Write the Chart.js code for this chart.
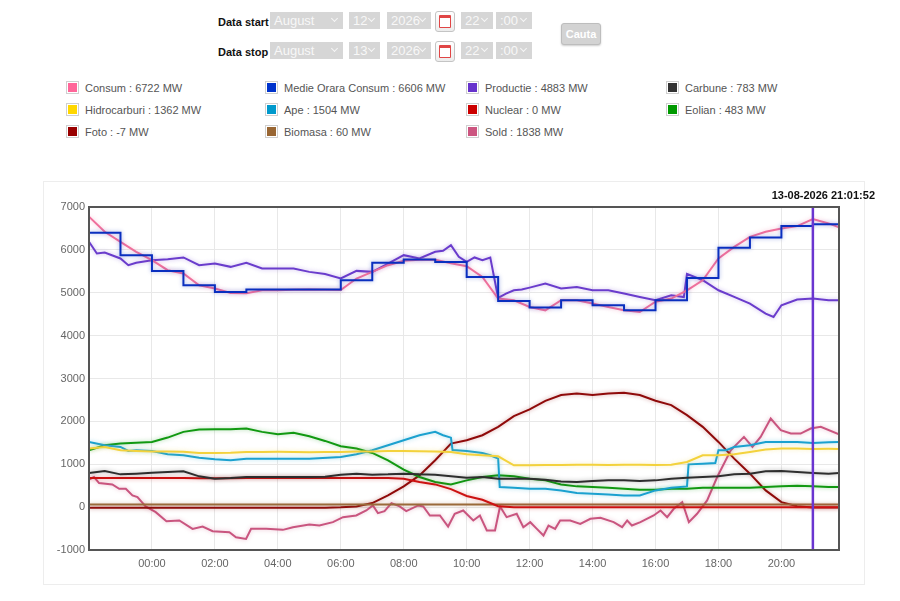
<!DOCTYPE html>
<html>
<head>
<meta charset="utf-8">
<script src="https://cdn.jsdelivr.net/npm/chart.js@4.4.1/dist/chart.umd.min.js"></script>
<style>
  body { margin: 0; width: 900px; height: 601px; position: relative; overflow: hidden; background: #fff;
         font-family: "Liberation Sans", Arial, sans-serif; }
  .lbl { position: absolute; font-weight: bold; font-size: 11px; color: #111; z-index: 2; }
  .sel { position: absolute; height: 17px; background: #d6d6d6; color: #f8f8f8; font-size: 13px;
         line-height: 17px; padding-left: 4px; box-sizing: border-box; }
  .sel:after { content: ''; position: absolute; right: 6px; top: 4px; width: 4px; height: 4px;
               border-right: 1.5px solid #f6f6f6; border-bottom: 1.5px solid #f6f6f6; transform: rotate(45deg); }
  .cal { position: absolute; width: 20px; height: 21px; border: 1px solid #c4c4c4; border-radius: 3px;
         background: linear-gradient(#fff, #ececec); box-sizing: border-box; }
  .cal i { position: absolute; left: 3px; top: 3px; width: 10px; height: 9px; border: 1px solid #e04545;
           border-top: 3px solid #e04545; background: #fff; border-radius: 1px; }
  .btn { position: absolute; left: 561px; top: 23px; width: 40px; height: 22px; background: #d3d3d3;
         border: 1px solid #bdbdbd; border-radius: 3px; box-sizing: border-box; color: #fff; font-weight: bold;
         font-size: 11px; line-height: 20px; text-align: center; box-shadow: 0 1px 2px rgba(0,0,0,.2); }
  .leg { position: absolute; font-size: 11px; color: #555; white-space: nowrap; line-height: 14px; }
  .leg b { display: inline-block; width: 11px; height: 11px; vertical-align: -2px; margin-right: 6px;
           border: 1px solid #d0d0d0; box-shadow: inset 0 0 0 1px #fff; }
  #box { position: absolute; left: 43px; top: 181px; width: 822px; height: 404px; border: 1px solid #ededed;
         box-sizing: border-box; }
  #wrap { position: absolute; left: 43px; top: 181px; width: 822px; height: 404px; }
  #stamp { position: absolute; right: 25px; top: 189px; font-weight: bold; font-size: 11px; color: #111; }
</style>
</head>
<body>
<div class="lbl" style="left:218px;top:16px">Data start</div>
<div class="sel" style="left:270px;top:12px;width:73px">August</div>
<div class="sel" style="left:349px;top:12px;width:31px">12</div>
<div class="sel" style="left:387px;top:12px;width:44px">2026</div>
<div class="cal" style="left:435px;top:11px"><i></i></div>
<div class="sel" style="left:461px;top:12px;width:32px">22</div>
<div class="sel" style="left:496px;top:12px;width:36px">:00</div>

<div class="lbl" style="left:218px;top:46px">Data stop</div>
<div class="sel" style="left:270px;top:42px;width:73px">August</div>
<div class="sel" style="left:349px;top:42px;width:31px">13</div>
<div class="sel" style="left:387px;top:42px;width:44px">2026</div>
<div class="cal" style="left:435px;top:41px"><i></i></div>
<div class="sel" style="left:461px;top:42px;width:32px">22</div>
<div class="sel" style="left:496px;top:42px;width:36px">:00</div>

<div class="btn">Cauta</div>

<div id="legend"></div>
<div id="box"></div>
<div id="wrap"><canvas id="chart" width="822" height="404"></canvas></div>
<div id="stamp">13-08-2026 21:01:52</div>

<script>
// half-hour grid, hours relative to 13-08 00:00 (-2 = 22:00 of the day before)
const hours = [-2, -1.5, -1, -0.5, 0, 0.5, 1, 1.5, 2, 2.5, 3, 3.5, 4, 4.5, 5, 5.5, 6, 6.5, 7, 7.5,
  8, 8.5, 9, 9.5, 10, 10.5, 11, 11.5, 12, 12.5, 13, 13.5, 14, 14.5, 15, 15.5, 16, 16.5, 17, 17.5,
  18, 18.5, 19, 19.5, 20, 20.5, 21, 21.5, 21.83]

const consum = [6773, 6422, 6188, 5955, 5760, 5526, 5450, 5175, 5100, 4997, 4990, 5058, 5060, 5070, 5075, 5070,
  5065, 5332, 5487, 5643, 5744, 5770, 5770, 5690, 5620, 5370, 4864, 4825, 4668, 4590, 4825, 4825, 4748, 4670,
  4590, 4551, 4790, 4864, 5058, 5292, 5800, 6071, 6305, 6422, 6500, 6555, 6720, 6617, 6525]
const hidrocarburi = [1365, 1404, 1326, 1310, 1300, 1300, 1290, 1264, 1264, 1270, 1287, 1287, 1290, 1287, 1280,
  1287, 1287, 1295, 1300, 1310, 1310, 1305, 1300, 1287, 1232, 1209, 1186, 975, 975, 980, 985, 990, 990, 985,
  990, 990, 985, 990, 1053, 1209, 1209, 1232, 1287, 1342, 1365, 1365, 1357, 1360, 1357]
const eolian = [1326, 1443, 1482, 1500, 1521, 1622, 1755, 1810, 1817, 1817, 1833, 1755, 1700, 1732, 1654, 1544,
  1420, 1365, 1264, 1092, 874, 702, 585, 530, 624, 702, 741, 718, 663, 624, 530, 484, 468, 452, 429, 406, 406,
  429, 429, 452, 452, 452, 452, 468, 484, 500, 484, 468, 470]
const carbune = [796, 842, 764, 780, 803, 819, 835, 718, 663, 678, 702, 702, 702, 702, 702, 710, 757, 780, 757,
  764, 780, 764, 757, 718, 686, 702, 663, 663, 663, 640, 600, 585, 608, 624, 624, 608, 624, 663, 686, 702, 718,
  764, 780, 835, 842, 819, 796, 780, 796]
const nuclear = [679, 679, 681, 679, 679, 679, 679, 676, 674, 676, 679, 679, 679, 679, 679, 679, 679, 679, 679,
  679, 663, 585, 530, 420, 260, 172, 20, 0, 0, 0, 0, 0, 0, 0, 0, 0, 0, 0, 0, 0, 0, 0, 0, 0, 0, 0, 0, 0, 0]
const foto = [-14, -15, -16, -15, -15, -14, -15, -16, -15, -15, -14, -15, -15, -16, -15, -14, -5, 16, 94, 273,
  484, 741, 1092, 1482, 1560, 1677, 1872, 2122, 2278, 2480, 2613, 2652, 2613, 2652, 2668, 2613, 2480, 2379,
  2145, 1872, 1521, 1131, 780, 390, 117, 23, -8, -10, -7]
const biomasa = [62, 62, 61, 61, 60, 60, 60, 60, 61, 61, 60, 60, 60, 60, 61, 61, 60, 60, 59, 59,
  60, 60, 61, 61, 60, 60, 60, 60, 60, 61, 61, 60, 60, 59, 60, 60, 60, 60, 61, 61,
  60, 60, 60, 60, 60, 60, 60, 60, 60]

// hourly average, one value per hour
const medieHours = [-2, -1, 0, 1, 2, 3, 4, 5, 6, 7, 8, 9, 10, 11, 12, 13, 14, 15, 16, 17, 18, 19, 20, 21, 21.83]
const medie = [6400, 5877, 5510, 5175, 5020, 5075, 5075, 5075, 5292, 5697, 5775, 5720, 5370, 4808, 4654, 4825,
  4708, 4590, 4825, 5346, 6048, 6290, 6555, 6595, 6595]

const productieHours = [-2, -1.75, -1.5, -1, -0.75, -0.5, 0, 0.5, 1, 1.5, 2, 2.5, 3, 3.5, 4, 4.5, 5, 5.5, 6, 6.5,
  7, 7.5, 8, 8.5, 9, 9.25, 9.5, 9.75, 10, 10.25, 10.5, 10.75, 11, 11.25, 11.5, 11.75, 12, 12.5, 13, 13.5,
  14, 14.5, 15, 15.5, 16, 16.5, 16.9, 17, 17.5, 18, 18.5, 19, 19.5, 19.75, 20, 20.5, 21, 21.5, 21.83]
const productie = [6190, 5917, 5940, 5800, 5643, 5700, 5760, 5780, 5823, 5643, 5680, 5604, 5697, 5565, 5565, 5565,
  5487, 5435, 5332, 5510, 5487, 5680, 5877, 5800, 5955, 5980, 6111, 5840, 5720, 5823, 5760, 5823, 4880, 4981,
  5058, 5075, 5120, 5215, 5098, 5136, 5058, 5058, 4981, 4903, 4825, 4942, 4900, 5440, 5292, 5058, 4903, 4748,
  4513, 4435, 4708, 4840, 4864, 4825, 4825]

const apeHours = [-2, -1.5, -1, -0.75, -0.5, 0, 0.5, 1, 1.5, 2, 2.5, 3, 4, 5, 6, 6.5, 7, 7.5, 8, 8.5,
  9, 9.25, 9.5, 9.55, 10, 10.5, 10.75, 11, 11.05, 11.5, 12, 12.5, 13, 13.5, 14, 14.5, 15, 15.5, 16, 16.5,
  17, 17.05, 17.5, 17.9, 18, 18.25, 18.5, 19, 19.5, 20, 20.5, 21, 21.5, 21.83]
const ape = [1521, 1443, 1404, 1310, 1326, 1310, 1232, 1209, 1154, 1115, 1092, 1131, 1131, 1131, 1170, 1232,
  1326, 1443, 1560, 1677, 1755, 1677, 1620, 1330, 1310, 1264, 1209, 1131, 468, 452, 429, 429, 390, 328, 312,
  296, 273, 273, 390, 452, 484, 998, 1014, 1030, 1326, 1326, 1404, 1443, 1521, 1521, 1521, 1498, 1513, 1521]

const soldHours = [-2, -1.84, -1.68, -1.26, -1.04, -0.83, -0.62, -0.46, -0.2, 0.12, 0.46, 0.87, 1.29, 1.61,
  1.93, 2.46, 2.67, 2.99, 3.15, 3.63, 4.16, 4.48, 5.0, 5.32, 5.75, 6.07, 6.49, 6.81, 7.02, 7.18, 7.39, 7.61,
  7.87, 8.08, 8.46, 8.62, 8.83, 9.15, 9.41, 9.62, 9.89, 10.21, 10.42, 10.64, 10.9, 11.06, 11.27, 11.59, 11.8,
  12.02, 12.23, 12.44, 12.6, 12.81, 12.97, 13.29, 13.61, 13.93, 14.25, 14.67, 14.94, 15.1, 15.25, 15.52,
  15.94, 16.16, 16.37, 16.58, 16.85, 17.06, 17.32, 17.64, 17.96, 18.39, 18.81, 19.08, 19.34, 19.66, 19.98,
  20.3, 20.61, 20.93, 21.25, 21.83]
const sold = [640, 702, 562, 530, 429, 429, 273, 234, 16, -117, -328, -312, -507, -452, -562, -585, -702, -741,
  -507, -507, -530, -468, -406, -429, -351, -234, -195, -78, 39, -140, -94, 94, 16, -94, 39, 16, -195, -195,
  -452, -156, -78, -312, -195, -546, -546, 16, -234, -156, -468, -351, -507, -663, -429, -507, -312, -312,
  -390, -273, -250, -351, -468, -312, -429, -351, -195, -78, -234, -39, 117, -351, -156, 156, 702, 1326, 1638,
  1404, 1638, 2067, 1794, 1716, 1716, 1833, 1872, 1700]

// x axis ticks every two hours, the first one (22:00) unlabeled
const tickHours = [-2, 0, 2, 4, 6, 8, 10, 12, 14, 16, 18, 20]
const tickLabels = ['', '00:00', '02:00', '04:00', '06:00', '08:00', '10:00', '12:00', '14:00', '16:00', '18:00', '20:00']
const nowHour = 21

const legendNames = ['Consum', 'Medie Orara Consum', 'Productie', 'Carbune', 'Hidrocarburi', 'Ape',
  'Nuclear', 'Eolian', 'Foto', 'Biomasa', 'Sold']
const legendValues = [6722, 6606, 4883, 783, 1362, 1504, 0, 483, -7, 60, 1838]
const legendColors = ['#ff6699', '#0033cc', '#6633cc', '#333333', '#ffd700', '#0099cc',
  '#cc0000', '#009900', '#990000', '#996633', '#cc5580']

// html legend, four per row
const legEl = document.getElementById('legend')
const colX = [66, 265, 466, 666]
legendNames.forEach((name, i) => {
  const d = document.createElement('div')
  d.className = 'leg'
  d.style.left = colX[i % 4] + 'px'
  d.style.top = (81 + Math.floor(i / 4) * 22) + 'px'
  d.innerHTML = '<b style="background:' + legendColors[i] + '"></b>' + name + ' : ' + legendValues[i] + ' MW'
  legEl.appendChild(d)
})

const pts = (xs, ys) => xs.map((x, i) => ({ x, y: ys[i] }))

const line = (label, data, color, extra) => Object.assign({
  label, data, borderColor: color, borderWidth: 2, pointRadius: 0, fill: false, tension: 0
}, extra)

// soft halo round every line, like the original
const glow = {
  id: 'glow',
  beforeDatasetDraw(chart, args) {
    const ctx = chart.ctx
    ctx.save()
    if (args.index > 0) {
      ctx.shadowColor = args.meta.dataset.options.borderColor + '60'
      ctx.shadowBlur = 4
    }
  },
  afterDatasetDraw(chart) {
    chart.ctx.restore()
  }
}

const frame = {
  id: 'frame',
  afterDatasetsDraw(chart) {
    const { ctx, chartArea: a } = chart
    ctx.save()
    ctx.strokeStyle = '#555'
    ctx.lineWidth = 2
    ctx.strokeRect(a.left, a.top, a.right - a.left, a.bottom - a.top)
    ctx.restore()
  }
}

Chart.defaults.font.family = '"Liberation Sans", Arial, sans-serif'

new Chart(document.getElementById('chart'), {
  type: 'line',
  data: {
    datasets: [
      line('Now', [{ x: nowHour, y: -1000 }, { x: nowHour, y: 7000 }], '#6a35d0', { borderWidth: 2.5 }),
      line('Medie Orara Consum', pts(medieHours, medie), '#0a2fbf', { stepped: true }),
      line('Consum', pts(hours, consum), '#ef709c'),
      line('Productie', pts(productieHours, productie), '#6a3ccc'),
      line('Carbune', pts(hours, carbune), '#2e2e2e'),
      line('Hidrocarburi', pts(hours, hidrocarburi), '#f3d23c'),
      line('Ape', pts(apeHours, ape), '#1ba1cf'),
      line('Nuclear', pts(hours, nuclear), '#cc1111'),
      line('Eolian', pts(hours, eolian), '#119911'),
      line('Biomasa', pts(hours, biomasa), '#9a6a3a'),
      line('Foto', pts(hours, foto), '#8f0a0a'),
      line('Sold', pts(soldHours, sold), '#c9557f')
    ]
  },
  options: {
    responsive: false,
    animation: false,
    events: [],
    devicePixelRatio: 1,
    layout: { padding: { top: 26, right: 26, left: 0, bottom: 0 } },
    plugins: { legend: { display: false }, tooltip: { enabled: false } },
    scales: {
      x: {
        type: 'linear',
        min: -2,
        max: 21.83,
        border: { display: false },
        grid: { color: '#e8e8e8', drawTicks: false },
        afterBuildTicks: s => { s.ticks = tickHours.map(v => ({ value: v })) },
        afterFit: s => { s.height = 35 },
        ticks: {
          autoSkip: false, maxRotation: 0, padding: 7, color: '#666', font: { size: 11 },
          callback: (v, i) => tickLabels[i]
        }
      },
      y: {
        min: -1000,
        max: 7000,
        border: { display: false },
        grid: { color: '#e8e8e8', drawTicks: false },
        afterFit: s => { s.width = 46 },
        ticks: { stepSize: 1000, padding: 4, color: '#666', font: { size: 11 }, callback: v => String(v) }
      }
    }
  },
  plugins: [glow, frame]
})
</script>
</body>
</html>
